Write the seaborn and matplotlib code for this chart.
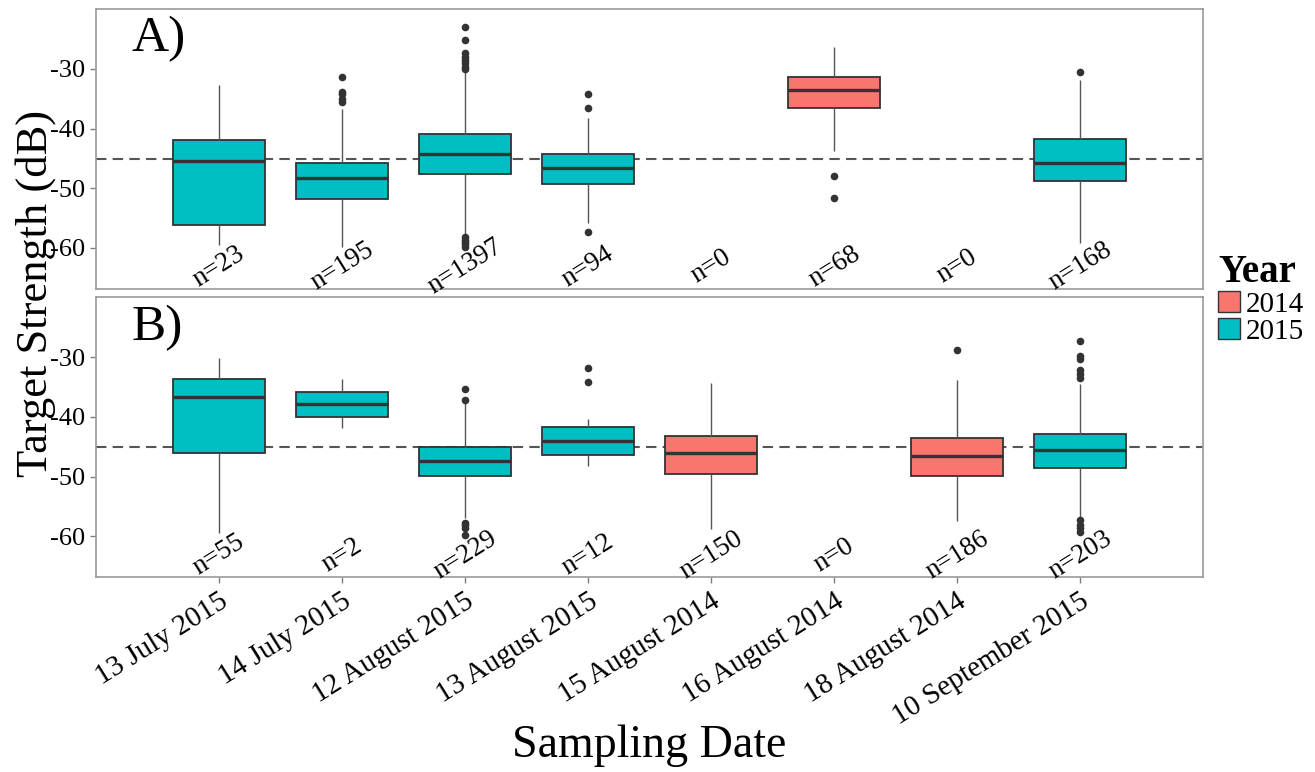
import numpy as np
import pandas as pd
import matplotlib
matplotlib.use('Agg')
import matplotlib.pyplot as plt
import seaborn as sns
from matplotlib.patches import Patch

dates = ['13 July 2015', '14 July 2015', '12 August 2015', '13 August 2015',
         '15 August 2014', '16 August 2014', '18 August 2014', '10 September 2015']
years = ['2015', '2015', '2015', '2015', '2014', '2014', '2014', '2015']

# five-number summaries (None = no data on that date)
a_lo  = [-59.5, -59.8, -57.8, -55.8, None, -43.7, None, -59.2]
a_q1  = [-56.1, -51.8, -47.6, -49.3, None, -36.6, None, -48.8]
a_med = [-45.4, -48.3, -44.2, -46.6, None, -33.5, None, -45.7]
a_q3  = [-41.9, -45.8, -40.9, -44.3, None, -31.3, None, -41.8]
a_hi  = [-32.7, -36.8, -30.4, -38.3, None, -26.3, None, -31.8]
a_n   = [23, 195, 1397, 94, 0, 68, 0, 168]
a_out = {
    '14 July 2015': [-31.4, -33.8, -34.2, -35.1, -35.6],
    '12 August 2015': [-23.0, -25.2, -27.4, -28.0, -28.5, -29.0, -29.6, -30.0,
                       -58.2, -58.6, -59.0, -59.4, -59.8],
    '13 August 2015': [-34.2, -36.5, -57.3],
    '16 August 2014': [-48.0, -51.6],
    '10 September 2015': [-30.5],
}

b_lo  = [-59.4, -41.8, -56.9, -48.3, -58.8, None, -57.4, -57.1]
b_q1  = [-46.1, -40.0, -49.9, -46.3, -49.6, None, -49.9, -48.6]
b_med = [-36.7, -37.8, -47.3, -44.0, -46.1, None, -46.5, -45.6]
b_q3  = [-33.7, -35.8, -45.1, -41.7, -43.2, None, -43.6, -42.9]
b_hi  = [-30.1, -33.6, -37.6, -40.3, -34.3, None, -33.9, -34.5]
b_n   = [55, 2, 229, 12, 150, 0, 186, 203]
b_out = {
    '12 August 2015': [-35.3, -37.1, -57.7, -58.1, -58.6, -59.8],
    '13 August 2015': [-31.9, -34.1],
    '18 August 2014': [-28.9],
    '10 September 2015': [-27.3, -29.8, -30.4, -32.1, -32.9, -33.5,
                          -57.2, -58.0, -58.6, -59.3],
}

ref_line = -45.1
pal = {'2014': '#F8766D', '2015': '#00BFC4'}


def summary_frame(lo, q1, med, q3, hi):
    rows = []
    for d, y, *vals in zip(dates, years, lo, q1, med, q3, hi):
        if vals[0] is None:
            continue
        for v in vals:
            rows.append({'date': d, 'year': y, 'ts': v})
    return pd.DataFrame(rows)


def outlier_frame(out):
    rows = [{'date': d, 'ts': v} for d, vals in out.items() for v in vals]
    return pd.DataFrame(rows)


sns.set_style('ticks')
plt.rcParams['font.family'] = ['Liberation Serif', 'DejaVu Serif']
plt.rcParams['axes.unicode_minus'] = False
plt.rcParams['text.color'] = 'black'

fig = plt.figure(figsize=(13.15, 7.72), dpi=100)
ax_a = fig.add_axes([0.073, 0.626, 0.842, 0.362])
ax_b = fig.add_axes([0.073, 0.252, 0.842, 0.363])

panels = [
    (ax_a, 'A)', summary_frame(a_lo, a_q1, a_med, a_q3, a_hi), outlier_frame(a_out), a_n),
    (ax_b, 'B)', summary_frame(b_lo, b_q1, b_med, b_q3, b_hi), outlier_frame(b_out), b_n),
]

for ax, tag, df, out, ns in panels:
    ax.axhline(ref_line, ls=(0, (5, 3)), color='#555555', lw=1.5, zorder=0.5)
    sns.boxplot(data=df, x='date', y='ts', hue='year', order=dates,
                hue_order=['2014', '2015'], palette=pal, whis=(0, 100),
                showfliers=False, showcaps=False, width=0.75, saturation=1,
                linecolor='#333333', linewidth=1.3, legend=False, ax=ax,
                medianprops=dict(linewidth=2.4),
                whiskerprops=dict(color='#555555', linewidth=1.0))
    sns.stripplot(data=out, x='date', y='ts', order=dates, jitter=False,
                  color='#333333', size=5.5, ax=ax)
    for i, n in enumerate(ns):
        ax.text(i, -63.1, f'n={n}', rotation=32, ha='center', va='center',
                rotation_mode='anchor', fontsize=19.5, color='black')
    ax.text(-0.71, -27.1, tag, fontsize=37, ha='left', va='baseline',
            color='black')
    ax.set_xlim(-1, 8)
    ax.set_ylim(-66.85, -20)
    ax.set_yticks([-30, -40, -50, -60])
    ax.set_xlabel('')
    ax.set_ylabel('')
    for s in ax.spines.values():
        s.set_color('#9a9a9a')
        s.set_linewidth(1.2)
    ax.tick_params(axis='both', colors='#7f7f7f', labelcolor='black',
                   length=4, width=1, labelsize=19)

ax_a.tick_params(axis='x', bottom=False, labelbottom=False)
ax_b.set_xticks(range(len(dates)))
ax_b.set_xticklabels(dates, rotation=32, ha='right', rotation_mode='anchor',
                     fontsize=21)

fig.text(0.027, 0.62, 'Target Strength (dB)', rotation=90, ha='center',
         va='center', fontsize=32)
fig.text(0.494, 0.034, 'Sampling Date', ha='center', va='center', fontsize=33)

handles = [Patch(facecolor=pal[y], edgecolor='#333333', lw=1) for y in ['2014', '2015']]
leg = fig.legend(handles, ['2014', '2015'], title='Year', loc='upper left',
                 bbox_to_anchor=(1218 / 1315, 1 - 254 / 772), frameon=False,
                 fontsize=21, handlelength=0.75, handleheight=0.75,
                 handletextpad=0.2, labelspacing=0.0, borderpad=0,
                 borderaxespad=0, alignment='left',
                 title_fontproperties={'weight': 'bold', 'size': 28})

fig.savefig('out.png', dpi=100)
